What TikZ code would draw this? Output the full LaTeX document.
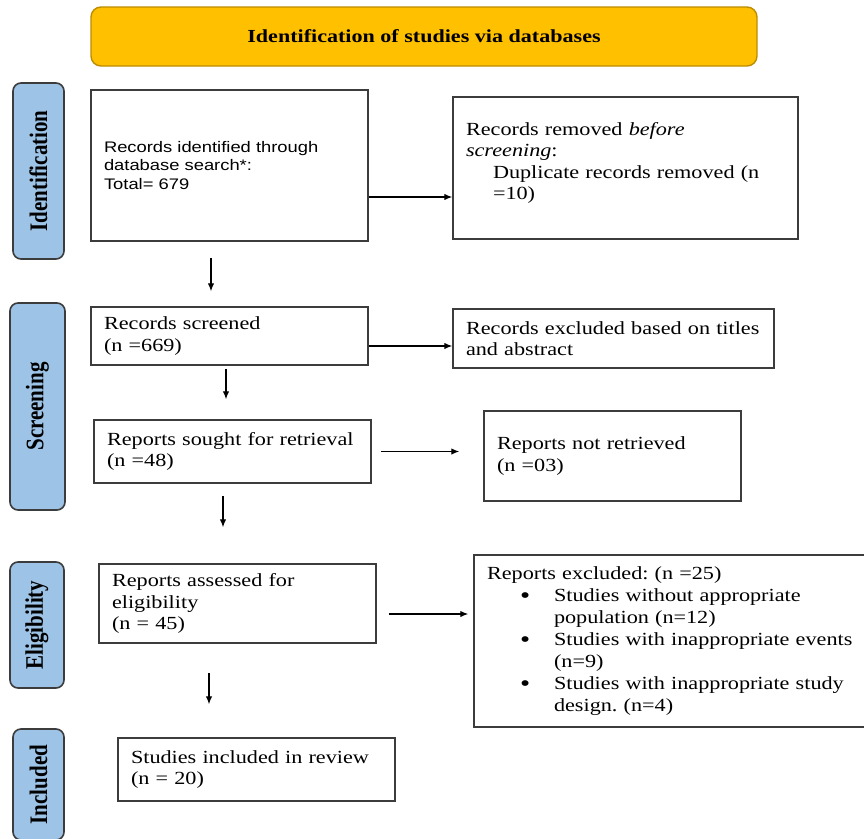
\documentclass[tikz,border=0pt]{standalone}
\usepackage{graphicx}
\usepackage{fontspec}
\setmainfont{Liberation Serif}[FakeStretch=1.2]
\newfontfamily\sansbody{Liberation Sans}[FakeStretch=1.2]
\newfontfamily\labfont{Liberation Serif}
\usetikzlibrary{arrows.meta}
\definecolor{gold}{RGB}{255,192,0}
\definecolor{goldline}{RGB}{190,140,0}
\definecolor{lblue}{RGB}{157,195,230}
\definecolor{boxline}{RGB}{60,60,60}
\newcommand{\bigbul}{\raisebox{-0.25ex}[0.5ex][0pt]{\scalebox{1.3}{\textbullet}}}
\frenchspacing
\begin{document}
\begin{tikzpicture}[x=1pt,y=-1pt,
  stagebox/.style={draw=boxline, line width=1.6pt, fill=lblue, rounded corners=8pt, rotate=90, inner sep=0pt,
    font=\labfont\fontsize{21}{24}\selectfont\bfseries},
  flowbox/.style={draw=boxline, line width=1.5pt, fill=white, inner xsep=13pt, inner ysep=0pt, align=left,
    font=\fontsize{18.5}{21.5}\selectfont},
  arr/.style={line width=1.2pt, -{Latex[length=8pt,width=6.5pt]}}]
\useasboundingbox (0,0) rectangle (864,838);
\clip (0,0) rectangle (864,838);
\fill[white] (0,0) rectangle (864,838);

% title
\node[draw=goldline, line width=1.4pt, fill=gold, rounded corners=10pt, minimum width=666pt, minimum height=59pt,
  font=\fontsize{18.4}{21}\selectfont\bfseries] (title) at (424,36.5) {Identification of studies via databases};

% stage labels
\node[stagebox, minimum width=176pt, minimum height=51pt] (lab1) at (38.5,171) {\scalebox{1}[1.2]{Identification}};
\node[stagebox, minimum width=207pt, minimum height=55pt] (lab2) at (37.5,406.5) {\scalebox{1}[1.2]{Screening}};
\node[stagebox, minimum width=126pt, minimum height=54pt] (lab3) at (37,625) {\scalebox{1}[1.2]{Eligibility}};
\node[stagebox, minimum width=111pt, minimum height=51pt] (lab4) at (38.5,784.5) {\scalebox{1}[1.2]{Included}};

% boxes
\node[flowbox, text width=251pt, minimum height=151pt, font=\sansbody\fontsize{15.3}{18.5}\selectfont] (b1) at (229.5,165.5)
  {Records identified through\\database search*:\\Total= 679};
\node[flowbox, text width=319pt, minimum height=142pt] (b2) at (625.5,168)
  {Records removed \textit{before}\\\textit{screening}:\\\hspace*{27pt}Duplicate records removed (n\\\hspace*{27pt}=10)\vspace{10pt}};
\node[flowbox, text width=251pt, minimum height=58pt] (scr) at (229.5,336)
  {Records screened\\(n =669)};
\node[flowbox, text width=295pt, minimum height=59pt] (exc) at (613.5,338.5)
  {Records excluded based on titles\\and abstract};
\node[flowbox, text width=251pt, minimum height=63pt] (sou) at (232.5,451.5)
  {Reports sought for retrieval\\(n =48)};
\node[flowbox, text width=231pt, minimum height=90pt] (nr) at (612.5,456)
  {Reports not retrieved\\(n =03)};
\node[flowbox, text width=251pt, minimum height=79pt] (ass) at (237.5,603.5)
  {Reports assessed for\\eligibility\\(n = 45)};
\node[flowbox, text width=370pt, minimum height=172pt, font=\fontsize{18.5}{22}\selectfont] (ex2) at (672,641)
  {Reports excluded: (n =25)\\
   \hspace*{33pt}\makebox[34pt][l]{\bigbul}Studies without appropriate\\
   \hspace*{67pt}population (n=12)\\
   \hspace*{33pt}\makebox[34pt][l]{\bigbul}Studies with inappropriate events\\
   \hspace*{67pt}(n=9)\\
   \hspace*{33pt}\makebox[34pt][l]{\bigbul}Studies with inappropriate study\\
   \hspace*{67pt}design. (n=4)};
\node[flowbox, text width=251pt, minimum height=63pt] (inc) at (256.5,769.5)
  {Studies included in review\\(n = 20)};

% horizontal arrows
\draw[arr] ([yshift=-31.5pt]b1.east) -- ([yshift=-31.5pt]b1.east -| b2.west);
\draw[arr] ([yshift=-10pt]scr.east) -- ([yshift=-10pt]scr.east -| exc.west);
\draw[arr] ([xshift=9pt]sou.east) -- ([xshift=-24pt]sou.east -| nr.west);
\draw[arr] ([xshift=12pt,yshift=-10.5pt]ass.east) -- ([xshift=-5pt,yshift=-10.5pt]ass.east -| ex2.west);

% vertical arrows
\draw[arr] ([xshift=-18.5pt,yshift=-16pt]b1.south) -- ([xshift=-18.5pt,yshift=15pt]scr.north -| b1.south);
\draw[arr] ([xshift=-3.5pt,yshift=-3pt]scr.south) -- ([xshift=-3.5pt,yshift=20pt]sou.north -| scr.south);
\draw[arr] ([xshift=-9.5pt,yshift=-12pt]sou.south) -- ([xshift=-9.5pt,yshift=36pt]ass.north -| sou.south);
\draw[arr] ([xshift=-28.5pt,yshift=-29pt]ass.south) -- ([xshift=-28.5pt,yshift=33pt]inc.north -| ass.south);
\end{tikzpicture}
\end{document}
